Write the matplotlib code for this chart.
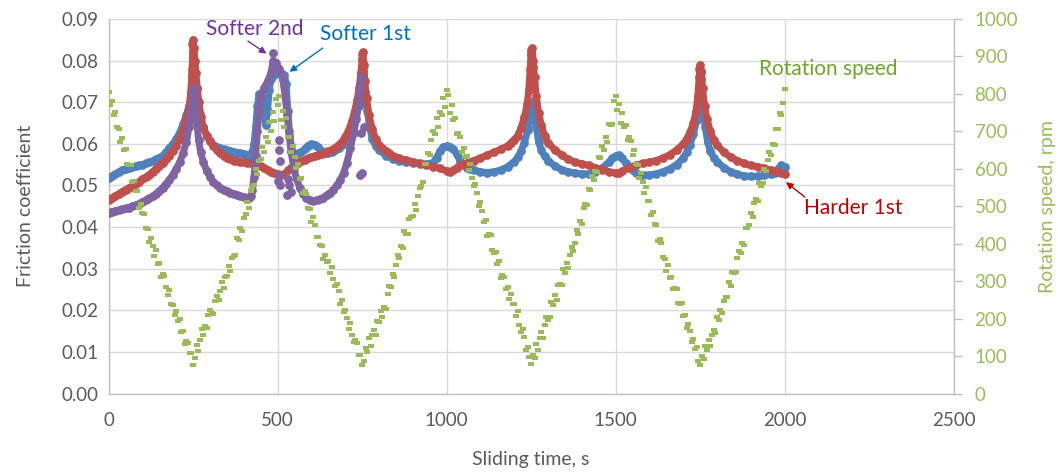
import matplotlib
matplotlib.use('Agg')
import matplotlib.pyplot as plt
from matplotlib.ticker import MultipleLocator, FormatStrFormatter

plt.rcParams['font.family'] = ['Lato', 'DejaVu Sans']

# ---------------- data ----------------
softer1_t = [0, 10, 20, 30, 40, 50, 60, 70, 80, 90,
             100, 110, 120, 130, 140, 150, 160, 170, 180, 190,
             200, 210, 220, 230, 240, 250, 255, 260, 265, 270,
             280, 290, 300, 310, 320, 330, 340, 350, 360, 370,
             380, 390, 400, 410, 420, 425, 430, 435, 440, 445,
             450, 455, 460, 465, 470, 475, 480, 490, 500, 510,
             520, 525, 530, 535, 540, 545, 550, 560, 570, 580,
             590, 600, 610, 620, 630, 640, 650, 660, 670, 680,
             690, 700, 710, 720, 730, 740, 748, 753, 758, 765,
             772, 780, 790, 800, 820, 840, 860, 880, 900, 920,
             940, 960, 970, 980, 990, 1000, 1010, 1020, 1030, 1040,
             1050, 1060, 1070, 1080, 1100, 1120, 1140, 1160, 1180, 1200,
             1210, 1220, 1230, 1240, 1248, 1253, 1258, 1265, 1272, 1280,
             1290, 1300, 1320, 1340, 1360, 1380, 1400, 1420, 1440, 1460,
             1480, 1490, 1500, 1510, 1520, 1530, 1540, 1550, 1560, 1580,
             1600, 1620, 1640, 1660, 1680, 1700, 1710, 1720, 1730, 1740,
             1748, 1753, 1758, 1765, 1772, 1780, 1790, 1800, 1820, 1840,
             1860, 1880, 1900, 1920, 1940, 1960, 1970, 1980, 1990, 2000]
softer1_mu = [.0518, .0522, .0527, .0532, .0537, .0540, .0542, .0544, .0546, .0548,
              .0550, .0553, .0556, .0559, .0563, .0567, .0572, .0580, .0590, .0600,
              .0612, .0627, .0647, .0670, .0697, .0727, .0742, .0732, .0702, .0672,
              .0640, .0620, .0606, .0598, .0593, .0590, .0587, .0585, .0583, .0580,
              .0578, .0577, .0575, .0573, .0572, .0580, .0600, .0640, .0690, .0720,
              .0712, .0695, .0670, .0645, .0680, .0730, .0755, .0765, .0772, .0770,
              .0765, .0745, .0680, .0630, .0595, .0578, .0576, .0577, .0580, .0588,
              .0596, .0600, .0598, .0592, .0582, .0577, .0578, .0581, .0585, .0590,
              .0597, .0607, .0620, .0637, .0660, .0690, .0725, .0740, .0725, .0680,
              .0640, .0612, .0595, .0585, .0572, .0564, .0559, .0556, .0554, .0552,
              .0551, .0555, .0567, .0582, .0592, .0595, .0593, .0587, .0575, .0558,
              .0548, .0542, .0540, .0537, .0533, .0531, .0533, .0537, .0545, .0557,
              .0568, .0583, .0603, .0633, .0670, .0700, .0690, .0640, .0605, .0585,
              .0570, .0560, .0547, .0538, .0533, .0530, .0528, .0528, .0532, .0542,
              .0556, .0565, .0571, .0573, .0566, .0553, .0545, .0536, .0530, .0525,
              .0525, .0528, .0533, .0540, .0550, .0566, .0580, .0598, .0623, .0658,
              .0693, .0703, .0680, .0640, .0605, .0583, .0567, .0557, .0543, .0533,
              .0527, .0523, .0522, .0522, .0524, .0527, .0531, .0540, .0548, .0545]

harder1_t = [0, 10, 20, 30, 40, 50, 60, 70, 80, 90,
             100, 110, 120, 130, 140, 150, 160, 170, 180, 190,
             200, 210, 220, 230, 238, 243, 247, 250, 252, 255,
             258, 262, 267, 273, 280, 290, 300, 310, 320, 330,
             340, 350, 360, 370, 380, 390, 400, 410, 420, 430,
             440, 450, 460, 470, 480, 490, 500, 510, 520, 530,
             540, 550, 560, 570, 580, 590, 600, 610, 620, 630,
             640, 650, 660, 670, 680, 690, 700, 710, 720, 728,
             735, 741, 746, 750, 752, 755, 758, 763, 770, 780,
             790, 800, 810, 820, 830, 840, 860, 880, 900, 920,
             940, 960, 980, 1000, 1010, 1020, 1030, 1040, 1050, 1060,
             1080, 1100, 1120, 1140, 1160, 1180, 1190, 1200, 1210, 1220,
             1230, 1238, 1243, 1247, 1250, 1253, 1256, 1260, 1265, 1272,
             1280, 1290, 1300, 1320, 1340, 1360, 1380, 1400, 1420, 1440,
             1460, 1480, 1500, 1510, 1520, 1540, 1560, 1580, 1600, 1620,
             1640, 1660, 1680, 1700, 1710, 1720, 1730, 1738, 1743, 1747,
             1750, 1753, 1757, 1763, 1770, 1780, 1790, 1800, 1820, 1840,
             1860, 1880, 1900, 1920, 1940, 1960, 1980, 1990, 2000]
harder1_mu = [.0465, .0470, .0475, .0480, .0485, .0490, .0494, .0499, .0504, .0509,
              .0515, .0520, .0526, .0533, .0540, .0547, .0555, .0563, .0572, .0583,
              .0596, .0612, .0632, .0660, .0690, .0725, .0780, .0850, .0830, .0800,
              .0770, .0735, .0700, .0665, .0640, .0620, .0607, .0595, .0585, .0577,
              .0570, .0566, .0563, .0560, .0558, .0557, .0556, .0555, .0554, .0553,
              .0550, .0546, .0541, .0537, .0533, .0530, .0527, .0524, .0528, .0536,
              .0543, .0550, .0555, .0558, .0561, .0565, .0568, .0571, .0573, .0576,
              .0579, .0582, .0586, .0591, .0597, .0605, .0617, .0633, .0655, .0680,
              .0705, .0735, .0770, .0805, .0820, .0790, .0750, .0710, .0670, .0635,
              .0612, .0598, .0590, .0583, .0577, .0572, .0565, .0561, .0557, .0553,
              .0549, .0545, .0541, .0535, .0533, .0536, .0543, .0548, .0551, .0554,
              .0560, .0566, .0573, .0580, .0587, .0595, .0602, .0610, .0620, .0638,
              .0665, .0695, .0730, .0780, .0825, .0830, .0800, .0760, .0715, .0675,
              .0645, .0620, .0603, .0585, .0573, .0563, .0556, .0552, .0548, .0543,
              .0538, .0533, .0530, .0530, .0534, .0543, .0549, .0553, .0556, .0560,
              .0566, .0574, .0585, .0600, .0612, .0628, .0650, .0680, .0715, .0760,
              .0790, .0775, .0735, .0690, .0660, .0630, .0610, .0597, .0580, .0568,
              .0560, .0553, .0548, .0545, .0541, .0537, .0533, .0530, .0527]

softer2_t = [0, 10, 20, 30, 40, 50, 60, 70, 80, 90,
             100, 110, 120, 130, 140, 150, 160, 170, 180, 190,
             200, 210, 220, 230, 238, 244, 249, 253, 257, 261,
             266, 272, 280, 290, 300, 310, 320, 330, 340, 350,
             360, 370, 380, 390, 400, 410, 415, 420, 425, 430,
             435, 440, 445, 450, 460, 470, 480, 487, 495, 505,
             515, 522, 528, 534, 540, 548, 556, 565, 575, 585,
             595, 605, 615, 625, 635, 645, 655, 665, 675, 685,
             695, 705, 715, 725, 733, 740, 745, 748]
softer2_mu = [.0435, .0437, .0439, .0441, .0443, .0445, .0447, .0450, .0453, .0456,
              .0460, .0464, .0469, .0474, .0480, .0487, .0495, .0504, .0514, .0526,
              .0540, .0556, .0577, .0605, .0640, .0680, .0720, .0735, .0700, .0650,
              .0610, .0580, .0557, .0535, .0520, .0508, .0500, .0494, .0490, .0486,
              .0483, .0480, .0477, .0474, .0472, .0470, .0470, .0475, .0490, .0520,
              .0570, .0630, .0680, .0715, .0735, .0750, .0770, .0800, .0795, .0780,
              .0755, .0715, .0670, .0620, .0580, .0540, .0515, .0495, .0480, .0470,
              .0464, .0463, .0464, .0467, .0471, .0476, .0482, .0490, .0500, .0513,
              .0530, .0555, .0590, .0625, .0660, .0700, .0735, .0760]

# isolated scattered points
softer2_dots_t = [486, 503, 505, 506, 504, 500, 508, 530, 534, 538, 528, 745, 750, 748, 754]
softer2_dots_mu = [.0818, .0610, .0585, .0560, .0525, .0510, .0500, .0515, .0500, .0485,
                   .0478, .0525, .0530, .0625, .0640]
harder1_dots_t = [248, 250, 251, 253, 246, 749, 751, 753, 1249, 1251, 1254, 1748, 1751, 1752]
harder1_dots_mu = [.0840, .0820, .0805, .0785, .0765, .0815, .0795, .0775, .0815, .0800,
                   .0785, .0780, .0770, .0755]

# rotation speed, sampled every 5 s from 0 to 2000 s
rotation_t = list(range(0, 2001, 5))
rotation_rpm = [
    # 0 - 250 s
    805, 770, 780, 743, 752, 712, 707, 671, 682, 650, 654, 613, 611, 611, 564, 568, 542, 541, 495, 505,
    481, 480, 441, 440, 405, 416, 395, 368, 384, 347, 349, 312, 319, 313, 285, 264, 277, 240, 237, 209,
    221, 193, 199, 165, 168, 132, 141, 136, 107, 108, 76,
    # 255 - 500 s
    94, 129, 114, 143, 171, 155, 179, 174, 209, 223, 215, 212, 247, 261, 251, 273, 298, 281, 312, 314,
    341, 326, 361, 366, 371, 415, 409, 442, 434, 470, 480, 512, 496, 541, 551, 557, 599, 586, 620, 627,
    657, 646, 685, 672, 725, 701, 751, 728, 786, 770,
    # 505 - 750 s
    794, 730, 754, 711, 735, 684, 686, 644, 660, 632, 601, 613, 574, 575, 536, 540, 533, 496, 492, 458,
    471, 451, 417, 417, 396, 394, 358, 371, 351, 355, 322, 338, 305, 287, 293, 274, 240, 251, 217, 224,
    201, 173, 189, 155, 138, 144, 136, 103, 102, 76,
    # 755 - 1000 s
    86, 121, 112, 147, 127, 155, 170, 157, 195, 190, 221, 205, 230, 226, 267, 288, 284, 318, 310, 342,
    371, 363, 394, 389, 434, 425, 425, 466, 472, 473, 507, 490, 528, 550, 554, 564, 612, 613, 643, 637,
    676, 702, 694, 735, 711, 753, 745, 788, 764, 810,
    # 1005 - 1250 s
    797, 750, 771, 731, 736, 693, 695, 685, 646, 655, 632, 634, 597, 612, 575, 555, 559, 536, 502, 511,
    488, 459, 464, 420, 426, 423, 383, 376, 378, 346, 355, 308, 317, 311, 279, 285, 252, 266, 239, 239,
    208, 221, 184, 164, 172, 150, 117, 125, 97, 78,
    # 1255 - 1500 s
    104, 95, 133, 115, 147, 164, 149, 182, 205, 196, 204, 244, 236, 262, 250, 289, 292, 290, 333, 321,
    348, 336, 369, 390, 380, 403, 437, 427, 461, 452, 496, 507, 504, 546, 543, 580, 569, 595, 591, 631,
    630, 662, 650, 684, 671, 721, 718, 719, 780, 795,
    # 1505 - 1750 s
    758, 772, 723, 748, 712, 718, 677, 684, 673, 638, 651, 614, 611, 576, 589, 565, 536, 551, 515, 513,
    478, 486, 453, 449, 406, 412, 402, 364, 358, 326, 344, 309, 312, 278, 283, 278, 243, 238, 243, 207,
    209, 174, 187, 166, 137, 146, 118, 123, 87, 77,
    # 1755 - 2000 s
    100, 92, 128, 115, 143, 126, 155, 170, 161, 205, 196, 224, 214, 248, 257, 257, 298, 288, 324, 323,
    325, 363, 381, 374, 403, 396, 441, 443, 449, 482, 472, 509, 520, 514, 561, 554, 562, 600, 595, 624,
    646, 637, 667, 664, 707, 707, 749, 745, 776, 812,
]

x_ticks = [0, 500, 1000, 1500, 2000, 2500]

# ---------------- styling ----------------
C_BLUE = '#4F81BD'
C_RED = '#C0504D'
C_PURPLE = '#8064A2'
C_GREEN = '#9BBB59'
C_TEXT = '#595959'
C_GRID = '#D9D9D9'
C_AXIS = '#BFBFBF'

fig = plt.figure(figsize=(10.58, 4.73), dpi=100)
ax = fig.add_axes([0.1027, 0.168, 0.7987, 0.7918])
ax2 = ax.twinx()

line_kw = dict(lw=5.0, marker='o', ms=6.3, mew=0, solid_joinstyle='round',
               solid_capstyle='round')
ax.plot(softer1_t, softer1_mu, color=C_BLUE, zorder=3, **line_kw)
ax.plot(harder1_t, harder1_mu, color=C_RED, zorder=4, **line_kw)
ax.plot(harder1_dots_t, harder1_dots_mu, 'o', color=C_RED, ms=6.3, mew=0, zorder=4)
ax.plot(softer2_t, softer2_mu, color=C_PURPLE, zorder=5, **line_kw)
ax.plot(softer2_dots_t, softer2_dots_mu, 'o', color=C_PURPLE, ms=6.3, mew=0, zorder=5)

dash = [(-1.5, -1.05), (1.5, -1.05), (1.5, 1.05), (-1.5, 1.05)]
ax2.plot(rotation_t, rotation_rpm, linestyle='none', marker=dash, ms=4.3, mew=0,
         color=C_GREEN, zorder=6)

ax.set_xlim(0, 2500)
ax.set_ylim(0, 0.09)
ax2.set_ylim(0, 1000)
ax.set_xticks(x_ticks)
ax.yaxis.set_major_locator(MultipleLocator(0.01))
ax.yaxis.set_major_formatter(FormatStrFormatter('%.2f'))
ax2.yaxis.set_major_locator(MultipleLocator(100))

ax.grid(True, color=C_GRID, lw=1.0, zorder=0)
ax.set_axisbelow(True)

for a in (ax, ax2):
    a.spines['top'].set_visible(False)
    for s in ('left', 'right', 'bottom'):
        a.spines[s].set_color(C_AXIS)
        a.spines[s].set_linewidth(1.0)
ax.spines['right'].set_visible(False)
ax2.spines['left'].set_visible(False)
ax2.spines['bottom'].set_visible(False)

ax.tick_params(axis='y', length=0, pad=7, labelsize=13.5, labelcolor=C_TEXT)
ax.tick_params(axis='x', length=0, pad=13, labelsize=13.5, labelcolor=C_TEXT)
ax2.tick_params(axis='y', length=6, width=1, color=C_AXIS, direction='out', pad=9,
                labelsize=13.5, labelcolor=C_GREEN)

ax.set_ylabel('Friction coefficient', fontsize=14, color=C_TEXT, labelpad=20)
ax.set_xlabel('Sliding time, s', fontsize=14, color=C_TEXT, labelpad=16)
ax2.set_ylabel('Rotation speed, rpm', fontsize=14, color=C_GREEN, labelpad=15)

# ---------------- annotations ----------------
arrow = dict(arrowstyle='-|>', lw=1.0, mutation_scale=10, shrinkA=0, shrinkB=0)
ax.text(433, 0.0876, 'Softer 2nd', ha='center', va='center', fontsize=15,
        color='#7030A0', zorder=10)
ax2.annotate('', xy=(467, 0.0817), xycoords=ax.transData,
             xytext=(412, 0.0847), textcoords=ax.transData,
             arrowprops=dict(color='#7030A0', **arrow))
ax.text(761, 0.0863, 'Softer 1st', ha='center', va='center', fontsize=15,
        color='#0070C0', zorder=10)
ax2.annotate('', xy=(535, 0.0773), xycoords=ax.transData,
             xytext=(633, 0.0830), textcoords=ax.transData,
             arrowprops=dict(color='#0070C0', **arrow))
ax2.text(2203, 0.0446, 'Harder 1st', transform=ax.transData, ha='center',
         va='center', fontsize=15, color='#C00000')
ax2.annotate('', xy=(2004, 0.0508), xycoords=ax.transData,
             xytext=(2060, 0.0472), textcoords=ax.transData,
             arrowprops=dict(color='#C00000', **arrow))
ax2.text(2128, 0.0780, 'Rotation speed', transform=ax.transData, ha='center',
         va='center', fontsize=15, color='#6EA42A')

fig.savefig('out.png', dpi=100)
